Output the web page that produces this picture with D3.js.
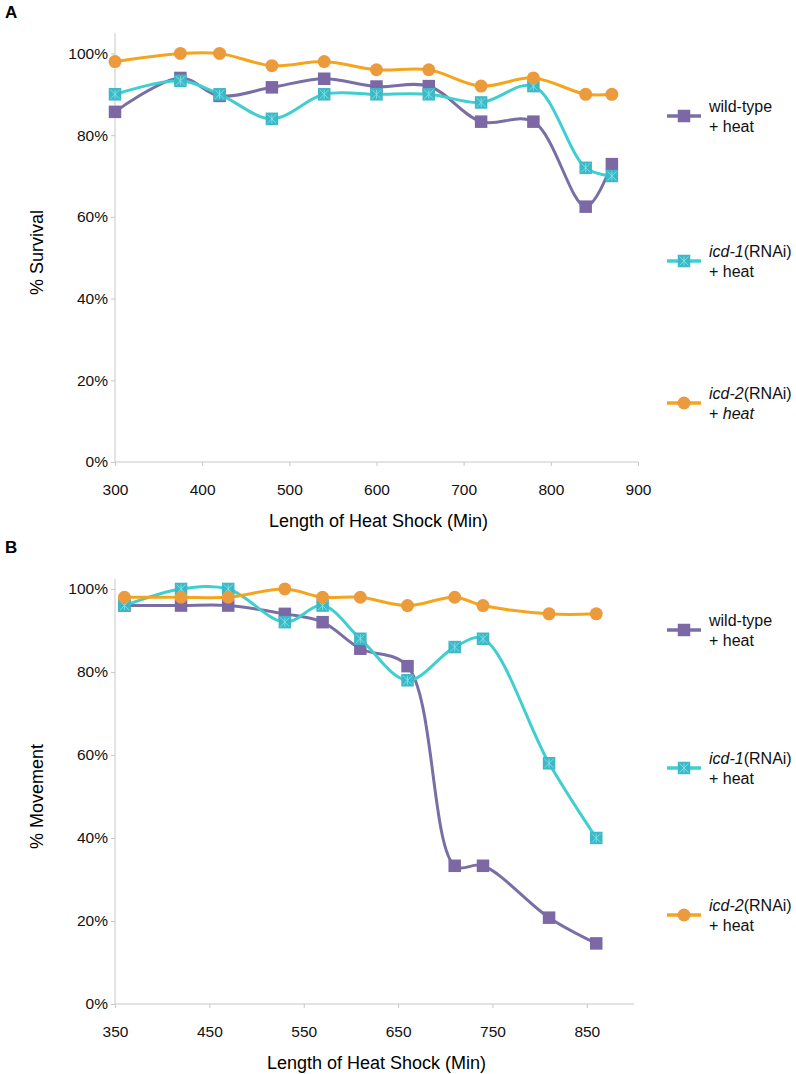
<!DOCTYPE html>
<html>
<head>
<meta charset="utf-8">
<script src="https://cdn.jsdelivr.net/npm/d3@7"></script>
<style>
  body { margin: 0; background: #fff; }
  svg { font-family: "Liberation Sans", Arial, sans-serif; }
  .axis path, .axis line { stroke: #c8c8c8; }
  .axis text { fill: #111; font-size: 15.5px; }
</style>
</head>
<body>
<div class="canvas"></div>
<script>
// panel A - survival
const survivalMinutes = [300, 375, 420, 480, 540, 600, 660, 720, 780, 840, 870]
const survivalWildType = [85.7, 94, 89.6, 91.7, 93.8, 91.9, 92, 83.3, 83.3, 62.5, 72.9]
const survivalIcd1 = [90, 93.3, 90, 84, 90, 90, 90, 88, 92, 72, 70]
const survivalIcd2 = [98, 100, 100, 97, 98, 96, 96, 92, 94, 90, 90]
const survivalXTicks = [300, 400, 500, 600, 700, 800, 900]

// panel B - movement
const movementMinutes = [360, 420, 470, 530, 570, 610, 660, 710, 740, 810, 860]
const movementWildType = [96, 96, 96, 94, 92, 85.6, 81.4, 33.3, 33.3, 20.8, 14.6]
const movementIcd1 = [96, 100, 100, 92, 96, 88, 78, 86, 88, 58, 40]
const movementIcd2 = [98, 98, 98, 100, 98, 98, 96, 98, 96, 94, 94]
const movementXTicks = [350, 450, 550, 650, 750, 850]

const yTicks = [0, 20, 40, 60, 80, 100]
const seriesNames = ['wild-type', 'icd-1', 'icd-2']

const colors = {
    'wild-type': { line: '#7a6fa5', mark: '#7d68a6' },
    'icd-1': { line: '#3fcfd0', mark: '#3cb8c7' },
    'icd-2': { line: '#f5a51d', mark: '#eb9b3c' }
}

const svg = d3.select('.canvas')
    .append('svg')
    .attr('width', 796)
    .attr('height', 1074)

const panels = [
    {
        label: 'A', top: 0, yTitle: '% Survival',
        minutes: survivalMinutes, xTicks: survivalXTicks, xDomain: [300, 900], yMax: 105,
        series: { 'wild-type': survivalWildType, 'icd-1': survivalIcd1, 'icd-2': survivalIcd2 },
        plot: { left: 115, right: 638, top: 33, bottom: 462 },
        legendY: [116, 261, 403], italicHeat: true
    },
    {
        label: 'B', top: 535, yTitle: '% Movement',
        minutes: movementMinutes, xTicks: movementXTicks, xDomain: [350, 900], yMax: 102.4,
        series: { 'wild-type': movementWildType, 'icd-1': movementIcd1, 'icd-2': movementIcd2 },
        plot: { left: 115, right: 634, top: 579, bottom: 1004 },
        legendY: [630, 768, 915], italicHeat: false
    }
]

const drawMarker = (g, name, cx, cy) => {
    const c = colors[name]
    if (name === 'icd-2') {
        g.append('circle')
            .attr('cx', cx).attr('cy', cy).attr('r', 6.5)
            .attr('fill', c.mark)
    } else {
        const s = 12.5
        g.append('rect')
            .attr('x', cx - s / 2).attr('y', cy - s / 2)
            .attr('width', s).attr('height', s)
            .attr('fill', c.mark)
        if (name === 'icd-1') {
            // little cross pattern inside the cyan squares
            const k = 4.5
            g.append('path')
                .attr('d', `M${cx - k},${cy - k}L${cx + k},${cy + k}M${cx - k},${cy + k}L${cx + k},${cy - k}M${cx},${cy - k}L${cx},${cy + k}`)
                .attr('stroke', '#7ee3e6')
                .attr('stroke-width', 0.9)
        }
    }
}

panels.forEach(p => {
    const x = d3.scaleLinear().domain(p.xDomain).range([p.plot.left, p.plot.right])
    const y = d3.scaleLinear().domain([0, p.yMax]).range([p.plot.bottom, p.plot.top])

    // panel letter
    svg.append('text')
        .attr('x', 5).attr('y', p.top + 18)
        .attr('font-size', 17).attr('font-weight', 'bold')
        .text(p.label)

    // axes
    const yAxis = d3.axisLeft(y)
        .tickValues(yTicks)
        .tickSize(4)
        .tickPadding(3)
        .tickFormat(d => d + '%')

    const xAxis = d3.axisBottom(x)
        .tickValues(p.xTicks)
        .tickSize(4)
        .tickPadding(18)

    svg.append('g')
        .attr('class', 'axis')
        .attr('transform', `translate(${p.plot.left}, 0)`)
        .call(yAxis)
        .call(g => g.select('.domain').attr('d', `M0,${p.plot.top}V${p.plot.bottom}`))

    svg.append('g')
        .attr('class', 'axis')
        .attr('transform', `translate(0, ${p.plot.bottom})`)
        .call(xAxis)
        .call(g => g.select('.domain').attr('d', `M${p.plot.left},0H${p.plot.right}`))

    // axis titles
    svg.append('text')
        .attr('transform', `translate(43, ${(p.plot.top + p.plot.bottom) / 2 + 5}) rotate(-90)`)
        .attr('text-anchor', 'middle')
        .attr('font-size', 18)
        .text(p.yTitle)

    svg.append('text')
        .attr('x', (p.plot.left + p.plot.right) / 2 + 2)
        .attr('y', p.plot.bottom + 65)
        .attr('text-anchor', 'middle')
        .attr('font-size', 18)
        .text('Length of Heat Shock (Min)')

    const line = d3.line()
        .x(d => x(d[0]))
        .y(d => y(d[1]))
        .curve(d3.curveCatmullRom.alpha(0.5))

    seriesNames.forEach(name => {
        const pts = p.minutes.map((m, i) => [m, p.series[name][i]])
        const g = svg.append('g').attr('class', 'series')
        g.append('path')
            .attr('d', line(pts))
            .attr('fill', 'none')
            .attr('stroke', colors[name].line)
            .attr('stroke-width', 3)
        pts.forEach(d => drawMarker(g, name, x(d[0]), y(d[1])))
    })

    // legend
    seriesNames.forEach((name, i) => {
        const ly = p.legendY[i]
        const lx = 684
        const g = svg.append('g').attr('class', 'legend')
        g.append('line')
            .attr('x1', lx - 17).attr('x2', lx + 17)
            .attr('y1', ly).attr('y2', ly)
            .attr('stroke', colors[name].line)
            .attr('stroke-width', 3.5)
        drawMarker(g, name, lx, ly)

        const t = g.append('text')
            .attr('font-size', 16)
            .attr('fill', '#111')
        const tx = lx + 25
        const first = t.append('tspan').attr('x', tx).attr('y', ly - 4)
        if (name === 'wild-type') {
            first.text('wild-type')
        } else {
            first.append('tspan').attr('font-style', 'italic').text(name)
            first.append('tspan').text('(RNAi)')
        }
        const second = g.append('text')
            .attr('font-size', 16)
            .attr('fill', '#111')
            .attr('x', tx).attr('y', ly + 16)
        if (name === 'icd-2' && p.italicHeat) {
            second.append('tspan').text('+ ')
            second.append('tspan').attr('font-style', 'italic').text('heat')
        } else {
            second.text('+ heat')
        }
    })
})
</script>
</body>
</html>
